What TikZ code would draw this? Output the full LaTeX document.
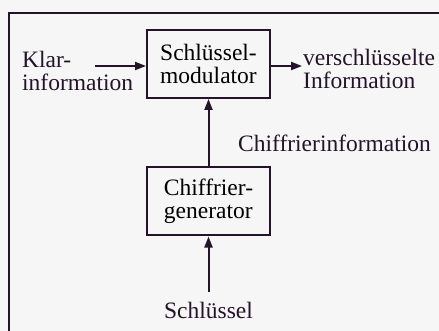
\documentclass[tikz,border=0pt]{standalone}
\usepackage{fontspec}
\setmainfont{Liberation Serif}
\usetikzlibrary{arrows.meta}
\begin{document}
\begin{tikzpicture}[x=1pt,y=-1pt,
  lw/.style={line width=2pt, draw={rgb,255:red,35;green,20;blue,40}},
  blk/.style={lw, minimum width=123pt, minimum height=68pt, align=left, inner sep=0pt},
  arr/.style={lw, -{Triangle[length=11pt,width=8pt]}},
  lbl/.style={inner sep=0pt, align=left, text={rgb,255:red,35;green,20;blue,40}},
  every node/.style={font=\fontsize{23.5}{22.5}\selectfont}]
\fill[white!93!gray] (0,0) rectangle (439,331);
\useasboundingbox (0,0) rectangle (439,331);
\draw[lw] (8.5,335) -- (8.5,13) -- (445,13);
\node[blk] (mod) at (208.5,64) {Schlüssel-\\modulator};
\node[blk] (gen) at (208.5,201.5) {Chiffrier-\\generator};
\node[lbl, anchor=west] (klar) at (22,71) {Klar-\\information};
\node[lbl, anchor=west] (vers) at (303,69) {verschlüsselte\\Information};
\node[lbl, anchor=west] (chif) at (238,143) {Chiffrierinformation};
\node[lbl] (schl) at (208.5,310) {Schlüssel};
\coordinate (kin) at (95,66);
\coordinate (vout) at (302,66);
\coordinate (sin) at (208.5,292);
\draw[arr] (kin) -- (kin -| mod.west);
\draw[arr] (vout -| mod.east) -- (vout);
\draw[arr] (gen.north) -- (mod.south);
\draw[arr] (sin) -- (gen.south);
\end{tikzpicture}
\end{document}
